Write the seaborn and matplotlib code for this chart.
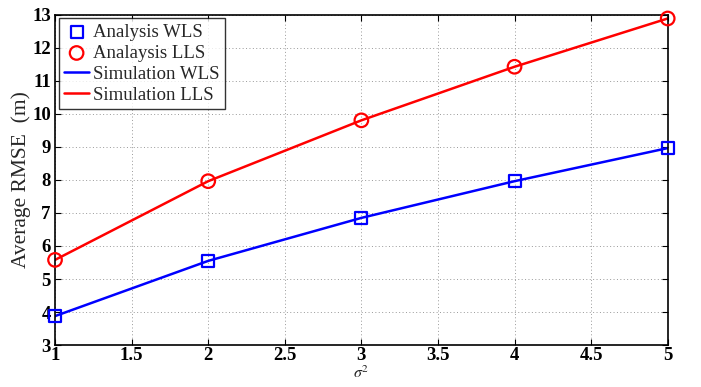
import matplotlib
matplotlib.use("Agg")
import matplotlib.pyplot as plt
import seaborn as sns
import pandas as pd

sigma2 = [1, 2, 3, 4, 5]
wls = [3.88, 5.55, 6.85, 7.96, 8.96]
lls = [5.58, 7.96, 9.80, 11.42, 12.88]
xticks = [1, 1.5, 2, 2.5, 3, 3.5, 4, 4.5, 5]
yticks = list(range(3, 14))

sns.set_style("white")
plt.rcParams['font.family'] = ['Liberation Serif', 'DejaVu Serif']
plt.rcParams['mathtext.fontset'] = 'stix'

df = pd.DataFrame({"sigma2": sigma2, "WLS": wls, "LLS": lls})

fig = plt.figure(figsize=(7.01, 3.87), dpi=100)
ax = fig.add_axes([0.0785, 0.108, 0.874, 0.8545])

sns.scatterplot(data=df, x="sigma2", y="WLS", ax=ax, marker="s", s=75,
                facecolor="none", edgecolor="#0000ff", linewidth=1.6,
                label="Analysis WLS", zorder=3, clip_on=False)
sns.scatterplot(data=df, x="sigma2", y="LLS", ax=ax, marker="o", s=95,
                facecolor="none", edgecolor="#ff0000", linewidth=1.6,
                label="Analaysis LLS", zorder=3, clip_on=False)
sns.lineplot(data=df, x="sigma2", y="WLS", ax=ax, color="#0000ff", linewidth=1.8,
             label="Simulation WLS", zorder=2)
sns.lineplot(data=df, x="sigma2", y="LLS", ax=ax, color="#ff0000", linewidth=1.8,
             label="Simulation LLS", zorder=2)

ax.set_xlim(1, 5)
ax.set_ylim(3, 13)
ax.set_xticks(xticks)
ax.set_xticklabels([f"{t:g}" for t in xticks])
ax.set_yticks(yticks)
ax.set_yticklabels([str(t) for t in yticks])
for lab in ax.get_xticklabels() + ax.get_yticklabels():
    lab.set_fontweight("bold")
    lab.set_fontsize(13.5)
ax.tick_params(direction="in", length=4, width=0.8, top=True, right=True,
               bottom=True, left=True, colors="black")
ax.tick_params(axis="x", pad=1.5)
ax.tick_params(axis="y", pad=3)
ax.grid(True, linestyle=(0, (1, 2.5)), color="#999999", linewidth=0.7)
for s in ax.spines.values():
    s.set_color("black")
    s.set_linewidth(1.2)

ax.set_xlabel(r"$\sigma^2$", fontsize=11.5, labelpad=0.5)
ax.set_ylabel("Average RMSE  (m)", fontsize=15.5, labelpad=1)

leg = ax.legend(loc="upper left", fontsize=13.5, frameon=True, fancybox=False,
                edgecolor="black", borderaxespad=0.2, handlelength=1.3,
                handletextpad=0.2, labelspacing=0.2, borderpad=0.3)
leg.get_frame().set_linewidth(1.0)

fig.savefig("out.png", dpi=100)
